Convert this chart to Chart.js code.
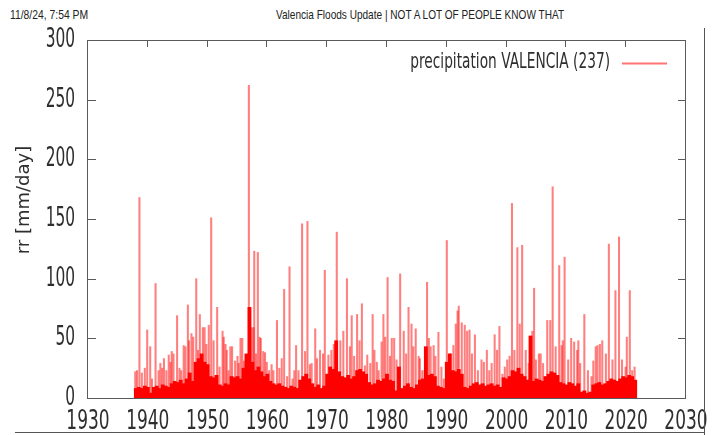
<!DOCTYPE html>
<html>
<head>
<meta charset="utf-8">
<title>precipitation VALENCIA</title>
<script src="https://cdn.jsdelivr.net/npm/chart.js@4.4.1/dist/chart.umd.min.js"></script>
<style>
  html, body { margin: 0; padding: 0; background: #fff; }
  #page { position: relative; width: 712px; height: 435px; overflow: hidden; }
  #myChart { position: absolute; left: 0; top: 0; }
  .head { position: absolute; top: 7px; font-family: "Liberation Sans", Arial, sans-serif; font-size: 13px; color: #222; white-space: nowrap; transform-origin: 0 0; }
  .rule { position: absolute; background: #555; }
</style>
</head>
<body>
<div id="page">
  <span class="head" id="stamp">11/8/24, 7:54 PM</span>
  <span class="head" id="pagetitle">Valencia Floods Update | NOT A LOT OF PEOPLE KNOW THAT</span>
  <canvas id="myChart" width="712" height="435"></canvas>
  <div class="rule" style="left:704px;top:28px;width:1px;height:407px"></div>
  <div class="rule" style="left:15px;top:432px;width:690px;height:1px"></div>
</div>
<script>
// axis ticks
const xTicks = [1930, 1940, 1950, 1960, 1970, 1980, 1990, 2000, 2010, 2020, 2030]
const yTicks = [0, 50, 100, 150, 200, 250, 300]
const yTitle = 'rr [mm/day]'
const seriesLabel = 'precipitation VALENCIA (237)'

// single wet days that stick out of the dense band (year, mm/day)
const spikeYears = [
  1937.9, 1938.2, 1938.6, 1939.0, 1939.5, 1939.9, 1940.4, 1940.7, 1941.3, 1941.8,
  1942.1, 1942.4, 1942.7, 1943.1, 1943.5, 1943.8, 1944.0, 1944.3, 1944.9, 1945.3,
  1945.6, 1946.0, 1946.3, 1946.7, 1946.9, 1947.3, 1947.6, 1948.1, 1948.4, 1948.7,
  1949.2, 1949.5, 1949.8, 1950.2, 1950.6, 1951.0, 1951.6, 1952.0, 1952.5, 1952.7,
  1953.0, 1953.2, 1953.5, 1953.8, 1954.1, 1954.6, 1955.0, 1955.2, 1955.5, 1955.8,
  1956.1, 1956.4, 1956.9, 1957.4, 1957.7, 1957.8, 1958.1, 1958.4, 1958.7, 1958.9,
  1959.3, 1959.6, 1959.9, 1960.3, 1960.7, 1961.0, 1961.6, 1962.0, 1962.4, 1962.8,
  1963.3, 1963.7, 1964.2, 1964.5, 1964.8, 1965.2, 1965.8, 1966.3, 1966.7, 1967.1,
  1967.4, 1968.0, 1968.3, 1968.8, 1969.3, 1969.6, 1970.2, 1970.7, 1971.1, 1971.6,
  1972.2, 1972.7, 1973.3, 1973.8, 1974.1, 1974.5, 1975.0, 1975.4, 1975.8, 1976.3,
  1976.7, 1977.2, 1977.6, 1977.9, 1978.3, 1978.6, 1979.1, 1979.4, 1979.7, 1980.1,
  1980.5, 1980.8, 1981.2, 1981.6, 1982.2, 1982.8, 1983.2, 1983.6, 1984.1, 1984.4,
  1984.8, 1985.3, 1985.5, 1985.9, 1986.3, 1986.7, 1987.0, 1987.3, 1987.8, 1988.1,
  1988.6, 1989.1, 1989.5, 1990.0, 1990.6, 1991.1, 1991.5, 1991.8, 1992.0, 1992.5,
  1993.0, 1993.4, 1993.8, 1994.2, 1994.7, 1995.2, 1995.8, 1996.2, 1996.7, 1997.1,
  1997.5, 1998.0, 1998.4, 1998.8, 1999.3, 1999.7, 2000.1, 2000.5, 2000.9, 2001.3,
  2001.8, 2002.2, 2002.6, 2003.2, 2003.7, 2004.3, 2004.6, 2004.9, 2005.4, 2005.7,
  2006.1, 2006.8, 2007.3, 2007.7, 2008.2, 2008.8, 2009.2, 2009.4, 2009.7, 2010.3,
  2010.8, 2011.3, 2011.8, 2012.0, 2012.3, 2013.0, 2013.6, 2014.2, 2014.5, 2014.9,
  2015.2, 2015.6, 2016.0, 2016.6, 2017.1, 2017.7, 2018.2, 2018.8, 2019.3, 2019.9,
  2020.1, 2020.6, 2021.0, 2021.4
]
const spikeValues = [
  22, 23, 168, 21, 25, 57, 43, 16, 96, 23,
  29, 25, 33, 23, 36, 30, 39, 37, 69, 25,
  23, 44, 43, 78, 48, 54, 51, 100, 40, 70,
  59, 59, 45, 61, 151, 48, 76, 26, 56, 51,
  45, 40, 23, 43, 43, 31, 35, 29, 50, 50,
  31, 35, 262, 59, 59, 123, 37, 122, 51, 50,
  39, 38, 30, 23, 28, 23, 65, 25, 33, 91,
  18, 110, 16, 23, 44, 23, 146, 39, 148, 28,
  29, 58, 33, 40, 37, 107, 36, 40, 45, 139,
  48, 56, 100, 43, 69, 35, 70, 48, 79, 27,
  36, 29, 70, 40, 30, 23, 47, 70, 51, 101,
  35, 50, 50, 32, 104, 56, 37, 76, 62, 43,
  58, 35, 33, 23, 23, 97, 50, 43, 44, 35,
  55, 26, 16, 132, 37, 44, 62, 73, 77, 63,
  61, 56, 57, 37, 53, 23, 32, 30, 40, 23,
  29, 53, 40, 60, 20, 26, 32, 35, 163, 40,
  126, 62, 128, 40, 29, 56, 92, 32, 37, 37,
  29, 65, 65, 177, 43, 111, 44, 48, 118, 32,
  50, 47, 40, 48, 29, 70, 23, 18, 31, 43,
  44, 45, 48, 37, 129, 32, 90, 135, 32, 26,
  51, 90, 23, 26
]

// dense band of ordinary rainy days, one value per half year from 1938
const floorFirstYear = 1938
const floorStep = 0.5
const floorValues = [
  8, 9, 8, 10, 9, 4, 9, 10, 8, 11,
  10, 9, 12, 14, 13, 15, 12, 16, 21, 14,
  30, 33, 37, 30, 28, 18, 17, 19, 11, 10,
  12, 11, 18, 17, 18, 16, 25, 37, 76, 30,
  23, 26, 22, 18, 20, 14, 12, 11, 12, 10,
  9, 8, 10, 9, 8, 15, 18, 20, 16, 12,
  9, 11, 8, 10, 20, 26, 24, 48, 22, 18,
  17, 19, 16, 18, 23, 24, 22, 20, 13, 11,
  12, 15, 14, 16, 20, 15, 14, 6, 26, 8,
  10, 12, 9, 8, 11, 15, 16, 43, 19, 20,
  18, 10, 9, 8, 30, 37, 23, 22, 24, 20,
  9, 8, 10, 12, 13, 11, 12, 10, 11, 12,
  10, 11, 9, 17, 16, 18, 23, 22, 25, 20,
  18, 15, 52, 14, 16, 15, 14, 18, 20, 22,
  21, 19, 13, 12, 11, 13, 12, 10, 12, 5,
  6, 4, 5, 11, 12, 13, 11, 12, 14, 16,
  15, 14, 16, 18, 17, 19, 18, 15
]

function fitText(id, left, width) {
    const el = document.getElementById(id)
    el.style.left = left + 'px'
    el.style.transform = `scaleX(${width / el.offsetWidth})`
}
fitText('stamp', 10, 78)
fitText('pagetitle', 276, 288)

// narrow text, like the squeezed gnuplot labels
function squeezedText(ctx, text, x, y, sx, align) {
    ctx.save()
    ctx.translate(x, y)
    ctx.scale(sx, 1)
    ctx.textAlign = align
    ctx.fillText(text, 0, 0)
    ctx.restore()
}

const gnuplotLook = {
    id: 'gnuplotLook',
    beforeDatasetsDraw(chart) {
        const {ctx, chartArea: a, scales: {x, y}} = chart
        ctx.save()
        ctx.strokeStyle = '#5a5a5a'
        ctx.lineWidth = 1
        ctx.beginPath()
        yTicks.forEach(v => {
            const py = Math.round(y.getPixelForValue(v)) + 0.5
            ctx.moveTo(a.left, py); ctx.lineTo(a.left + 8, py)
            ctx.moveTo(a.right, py); ctx.lineTo(a.right - 8, py)
        })
        xTicks.forEach(v => {
            const px = Math.round(x.getPixelForValue(v)) - 0.5
            ctx.moveTo(px, a.top); ctx.lineTo(px, a.top + 7)
        })
        ctx.stroke()
        ctx.restore()
    },
    afterDatasetsDraw(chart) {
        const {ctx, chartArea: a} = chart
        ctx.save()
        ctx.strokeStyle = '#5a5a5a'
        ctx.lineWidth = 1
        ctx.strokeRect(a.left - 0.5, a.top + 0.5, a.right - a.left, a.bottom - a.top)
        ctx.restore()
    },
    afterDraw(chart) {
        const {ctx, scales: {x, y}} = chart
        ctx.save()
        ctx.fillStyle = '#2e2e2e'
        ctx.textBaseline = 'middle'
        ctx.font = '27px "DejaVu Sans", sans-serif'
        yTicks.forEach(v => squeezedText(ctx, String(v), 75, y.getPixelForValue(v), 0.57, 'right'))
        xTicks.forEach(v => squeezedText(ctx, String(v), x.getPixelForValue(v), 422, 0.63, 'center'))

        // y title
        ctx.save()
        ctx.translate(24, 200)
        ctx.rotate(-Math.PI / 2)
        ctx.font = '18px "DejaVu Sans", sans-serif'
        ctx.textAlign = 'center'
        ctx.fillText(yTitle, 0, 0)
        ctx.restore()

        // key, top right
        ctx.font = '20.5px "DejaVu Sans", sans-serif'
        ctx.textBaseline = 'alphabetic'
        squeezedText(ctx, chart.data.datasets[1].label, 610, 68, 0.67, 'right')
        ctx.strokeStyle = 'rgba(255,0,0,0.55)'
        ctx.lineWidth = 2
        ctx.beginPath()
        ctx.moveTo(622, 63.5)
        ctx.lineTo(667, 63.5)
        ctx.stroke()
        ctx.restore()
    }
}

const spikePoints = spikeYears.map((yr, i) => ({x: yr, y: spikeValues[i]}))
const floorPoints = floorValues.map((v, i) => ({x: floorFirstYear + i * floorStep, y: v}))

const canvas = document.getElementById('myChart')
const myChart = new Chart(canvas, {
    type: 'bar',
    data: {
        datasets: [
            {
                label: 'dense',
                data: floorPoints,
                backgroundColor: '#ff0000',
                barThickness: 3.2,
                grouped: false,
                order: 0
            },
            {
                label: seriesLabel,
                data: spikePoints,
                backgroundColor: 'rgba(255,0,0,0.5)',
                barThickness: 1.4,
                grouped: false,
                order: 1
            }
        ]
    },
    options: {
        responsive: false,
        animation: false,
        layout: { padding: { top: 40, right: 26, left: 0, bottom: 0 } },
        plugins: { legend: { display: false }, tooltip: { enabled: false } },
        scales: {
            x: {
                type: 'linear', min: 1930, max: 2030, offset: false,
                ticks: { display: false, stepSize: 10 },
                grid: { display: false, offset: false }, border: { display: false },
                afterFit: s => { s.height = 37 }
            },
            y: {
                min: 0, max: 300,
                ticks: { display: false, stepSize: 50 },
                grid: { display: false }, border: { display: false },
                afterFit: s => { s.width = 88 }
            }
        }
    },
    plugins: [gnuplotLook]
})
</script>
</body>
</html>
